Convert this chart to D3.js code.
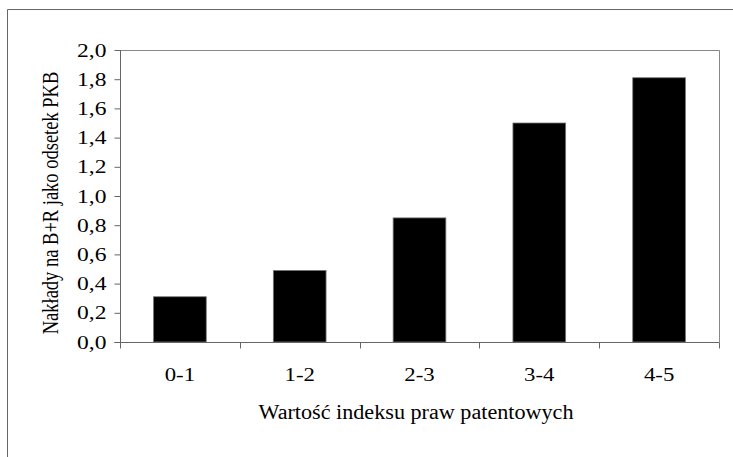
<!DOCTYPE html>
<html>
<head>
<meta charset="utf-8">
<script src="https://cdn.jsdelivr.net/npm/d3@7"></script>
<style>
  body { margin: 0; background: #fff; }
  text { font-family: "Liberation Serif", "Times New Roman", serif; fill: #000; }
</style>
</head>
<body>
<div id="chart"></div>
<script>
// data
var categories = ["0-1", "1-2", "2-3", "3-4", "4-5"];
var values = [0.31, 0.49, 0.85, 1.5, 1.81];
var yTicks = [0, 0.2, 0.4, 0.6, 0.8, 1.0, 1.2, 1.4, 1.6, 1.8, 2.0];

var svgWidth = 733;
var svgHeight = 457;

var margin = { top: 50, right: 14, bottom: 115, left: 120 };
var width = svgWidth - margin.left - margin.right;
var height = svgHeight - margin.top - margin.bottom;

// the source picture is stretched sideways, so text gets a horizontal scale
var stretch = 1.24;

var svg = d3.select("#chart")
  .append("svg")
  .attr("width", svgWidth)
  .attr("height", svgHeight);

// outer frame (only top and left visible)
svg.append("path")
  .attr("d", "M7.5,457 V9.5 H733")
  .attr("fill", "none")
  .attr("stroke", "#666")
  .attr("stroke-width", 1);

var chartGroup = svg.append("g")
  .attr("transform", `translate(${margin.left}, ${margin.top})`);

var xScale = d3.scaleBand()
  .domain(categories)
  .range([0, width])
  .paddingInner(0.56)
  .paddingOuter(0.28);

var xEdges = d3.scaleLinear().domain([0, categories.length]).range([0, width]);

var yScale = d3.scaleLinear()
  .domain([0, 2])
  .range([height, 0]);

// plot box top + right
chartGroup.append("path")
  .attr("d", `M0,0.5 H${width + 0.5} V${height}`)
  .attr("fill", "none")
  .attr("stroke", "#888");

// bars
chartGroup.selectAll("rect.bar")
  .data(values)
  .enter()
  .append("rect")
  .attr("class", "bar")
  .attr("x", (d, i) => xScale(categories[i]))
  .attr("y", d => yScale(d))
  .attr("width", xScale.bandwidth())
  .attr("height", d => height - yScale(d))
  .attr("fill", "#000")
  .attr("stroke", "#777")
  .attr("stroke-width", 0.8);

// y axis
var leftAxis = d3.axisLeft(yScale)
  .tickValues(yTicks)
  .tickSize(6)
  .tickFormat(d => d3.format(".1f")(d).replace(".", ","));

var yAxisG = chartGroup.append("g")
  .attr("transform", "translate(0.5,0)")
  .call(leftAxis);
yAxisG.select(".domain").attr("stroke", "#666").attr("d", `M-6,${height + 0.5}H0V0`);
yAxisG.selectAll(".tick line").attr("stroke", "#666");
yAxisG.selectAll(".tick text")
  .attr("x", 0)
  .attr("transform", `translate(-14,0) scale(${stretch},1)`)
  .style("font-size", "19px");

// x axis with ticks at category edges
var xAxisG = chartGroup.append("g")
  .attr("transform", `translate(0, ${height + 0.5})`);
xAxisG.append("line")
  .attr("x1", 0).attr("x2", width + 0.5)
  .attr("stroke", "#666");
xAxisG.selectAll("line.edge")
  .data(d3.range(categories.length + 1))
  .enter()
  .append("line")
  .attr("class", "edge")
  .attr("x1", d => Math.round(xEdges(d)) + 0.5)
  .attr("x2", d => Math.round(xEdges(d)) + 0.5)
  .attr("y1", 0)
  .attr("y2", 6)
  .attr("stroke", "#666");
xAxisG.selectAll("text.cat")
  .data(categories)
  .enter()
  .append("text")
  .attr("class", "cat")
  .attr("transform", d => `translate(${xScale(d) + xScale.bandwidth() / 2},38) scale(1.2,1)`)
  .attr("text-anchor", "middle")
  .style("font-size", "19px")
  .text(d => d);

// axis titles
chartGroup.append("text")
  .attr("transform", `translate(-62,153) scale(${stretch},1) rotate(-90)`)
  .style("text-anchor", "middle")
  .style("font-size", "18.5px")
  .text("Nakłady na B+R jako odsetek PKB");

chartGroup.append("text")
  .attr("x", 296)
  .attr("y", height + 77)
  .style("text-anchor", "middle")
  .style("font-size", "20px")
  .attr("textLength", 315)
  .attr("lengthAdjust", "spacingAndGlyphs")
  .text("Wartość indeksu praw patentowych");
</script>
</body>
</html>
